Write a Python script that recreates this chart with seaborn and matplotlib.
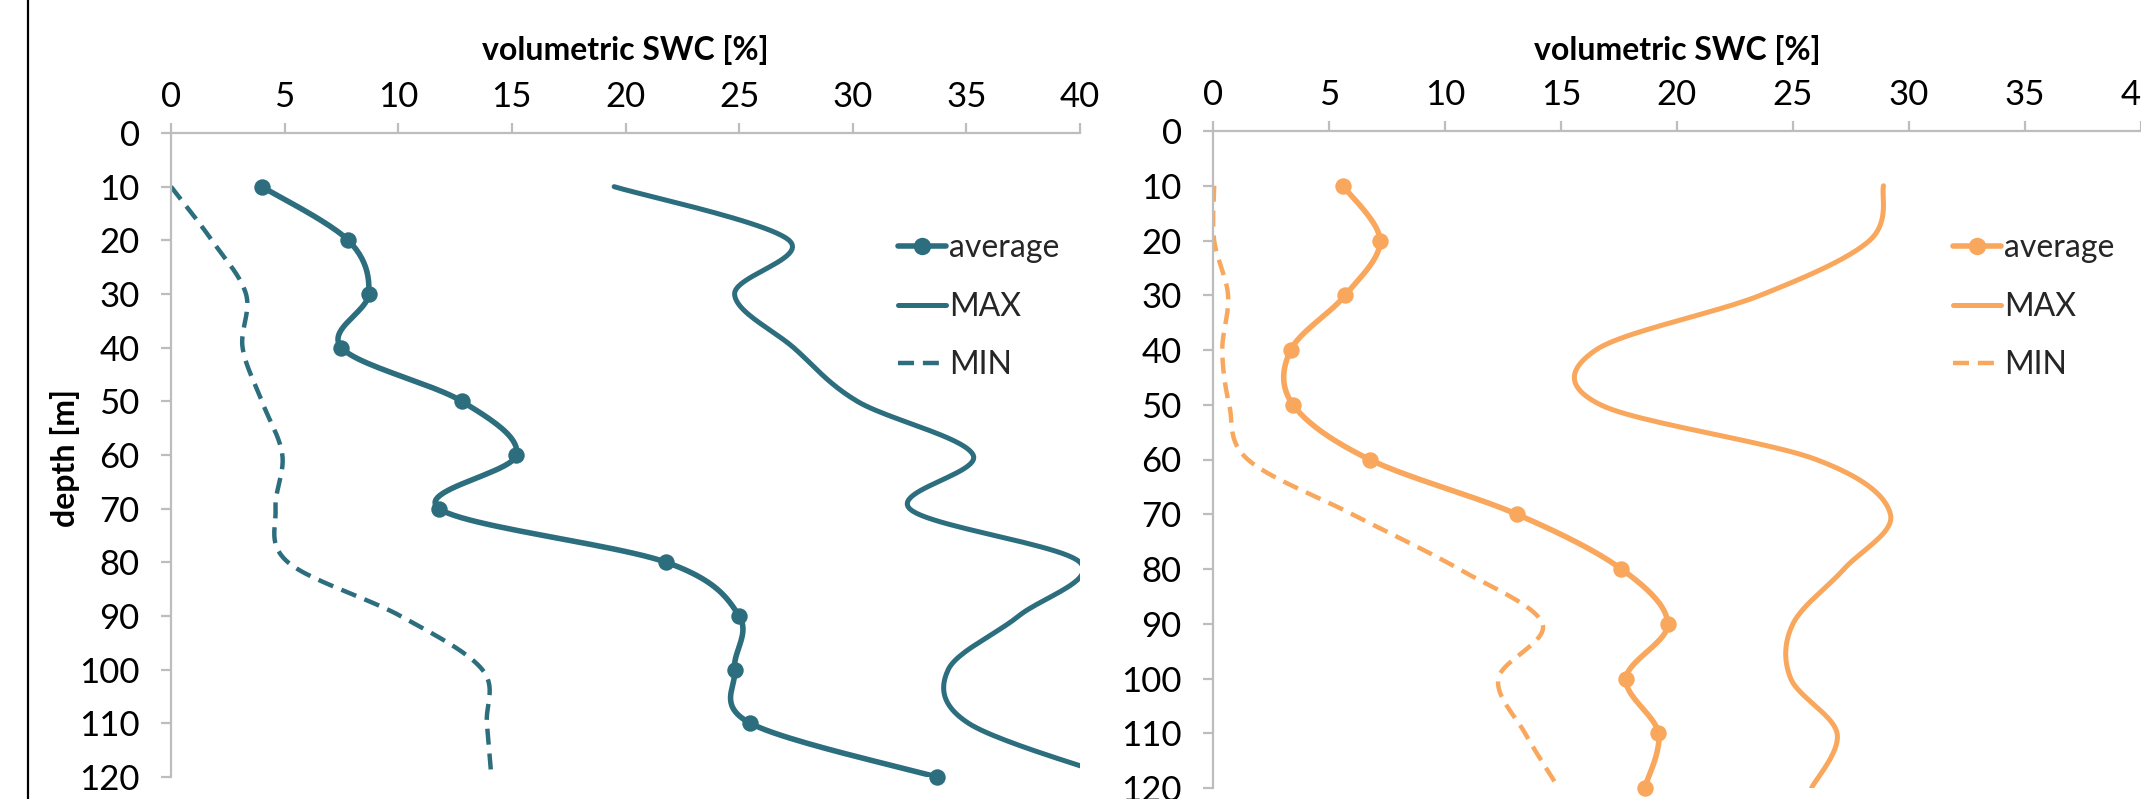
import numpy as np
import matplotlib
matplotlib.use("Agg")
import matplotlib.pyplot as plt
from matplotlib.lines import Line2D
import seaborn as sns

# depth of each reading [m]
depth = [10, 20, 30, 40, 50, 60, 70, 80, 90, 100, 110, 120]

# left profile (teal)
left_avg = [4.0, 7.8, 8.7, 7.5, 12.8, 15.2, 11.8, 21.8, 25.0, 24.8, 25.5, 33.7]
left_max = [19.5, 27.2, 24.8, 27.4, 30.2, 35.3, 32.5, 40.0, 37.3, 34.2, 35.1, 41.5]
left_min = [0.0, 1.8, 3.3, 3.15, 4.0, 4.9, 4.6, 5.15, 10.1, 13.7, 13.9, 14.1]

# right profile (orange)
right_avg = [5.6, 7.2, 5.7, 3.35, 3.45, 6.75, 13.1, 17.6, 19.6, 17.8, 19.2, 18.6]
right_max = [28.9, 28.3, 23.6, 16.5, 16.7, 26.0, 29.2, 27.2, 25.0, 24.9, 26.9, 25.8]
right_min = [0.05, 0.05, 0.65, 0.4, 0.7, 1.5, 6.0, 10.6, 14.2, 12.3, 13.45, 14.9]

series_names = ["average", "MAX", "MIN"]
x_ticks = list(range(0, 45, 5))
y_ticks = list(range(0, 130, 10))

TEAL = "#2C6E7E"
ORANGE = "#F9A75C"
GREY = "#BDBDBD"


def smooth(xs, ys, n=24):
    # excel style smoothed line (catmull-rom through the points)
    P = np.column_stack([xs, ys]).astype(float)
    P = np.vstack([P[0], P, P[-1]])
    out = []
    t = np.linspace(0, 1, n, endpoint=False)[:, None]
    for i in range(1, len(P) - 2):
        p0, p1, p2, p3 = P[i - 1], P[i], P[i + 1], P[i + 2]
        seg = 0.5 * (2 * p1 + (-p0 + p2) * t
                     + (2 * p0 - 5 * p1 + 4 * p2 - p3) * t ** 2
                     + (-p0 + 3 * p1 - 3 * p2 + p3) * t ** 3)
        out.append(seg)
    out.append(P[-2][None])
    s = np.vstack(out)
    return s[:, 0], s[:, 1]


sns.set_theme(style="ticks")
plt.rcParams["font.family"] = ["Lato", "DejaVu Sans"]

fig = plt.figure(figsize=(21.41, 7.99), dpi=100)
W, H = 2141, 799

panels = [
    (left_avg, left_max, left_min, TEAL, (171, 133, 1080, 777), True),
    (right_avg, right_max, right_min, ORANGE, (1213, 131, 2141, 788), False),
]

for avg, mx, mn, col, (x0, y0, x1, y1), first in panels:
    ax = fig.add_axes([x0 / W, 1 - y1 / H, (x1 - x0) / W, (y1 - y0) / H])

    sx, sy = smooth(mx, depth)
    sns.lineplot(x=sx, y=sy, ax=ax, color=col, lw=3.6, sort=False,
                 estimator=None, orient="y")
    sx, sy = smooth(mn, depth)
    sns.lineplot(x=sx, y=sy, ax=ax, color=col, lw=3.2, sort=False,
                 estimator=None, orient="y")
    ax.lines[-1].set_linestyle((0, (3.6, 2.0)))
    sx, sy = smooth(avg, depth)
    sns.lineplot(x=sx, y=sy, ax=ax, color=col, lw=4.0, sort=False,
                 estimator=None, orient="y")
    sns.scatterplot(x=avg, y=depth, ax=ax, color=col, s=140, edgecolor=col,
                    linewidth=0, zorder=5, clip_on=False)

    ax.set_xlim(0, 40)
    ax.set_ylim(120, 0)
    ax.set_xticks(x_ticks)
    ax.set_yticks(y_ticks)
    ax.xaxis.tick_top()
    ax.xaxis.set_label_position("top")
    for side in ["right", "bottom"]:
        ax.spines[side].set_visible(False)
    for side in ["top", "left"]:
        ax.spines[side].set_color(GREY)
        ax.spines[side].set_linewidth(1.6)
    ax.tick_params(axis="both", colors=GREY, width=1.6, length=7.5,
                   labelcolor="black", labelsize=25)
    ax.tick_params(axis="x", pad=7)
    ax.tick_params(axis="y", pad=15)

    ax.set_xlabel("volumetric SWC [%]", fontsize=23, fontweight="bold",
                  color="black")
    ax.xaxis.set_label_coords(0.5, 1 + (y0 - 60) / (y1 - y0))
    if first:
        ax.set_ylabel("depth [m]", fontsize=23, fontweight="bold",
                      color="black")
        ax.yaxis.set_label_coords(-(x0 - 80) / (x1 - x0),
                                  1 - (458 - y0) / (y1 - y0))
    else:
        ax.set_ylabel("")

    handles = [
        Line2D([], [], color=col, lw=4.0, marker="o", markersize=11.5),
        Line2D([], [], color=col, lw=3.6),
        Line2D([], [], color=col, lw=3.2, ls=(0, (3.6, 2.0))),
    ]
    lx = (898 if first else 1953) - x0
    ax.legend(handles, series_names, loc="upper left", frameon=False,
              bbox_to_anchor=(lx / (x1 - x0), 1 - (233 - y0) / (y1 - y0)),
              borderpad=0, borderaxespad=0, handlelength=1.5,
              handletextpad=0.1, labelspacing=0.9, fontsize=23)

fig.add_artist(Line2D([28 / W, 28 / W], [0, 1], color="black", lw=1.6,
                      transform=fig.transFigure))

fig.savefig("out.png", dpi=100)
